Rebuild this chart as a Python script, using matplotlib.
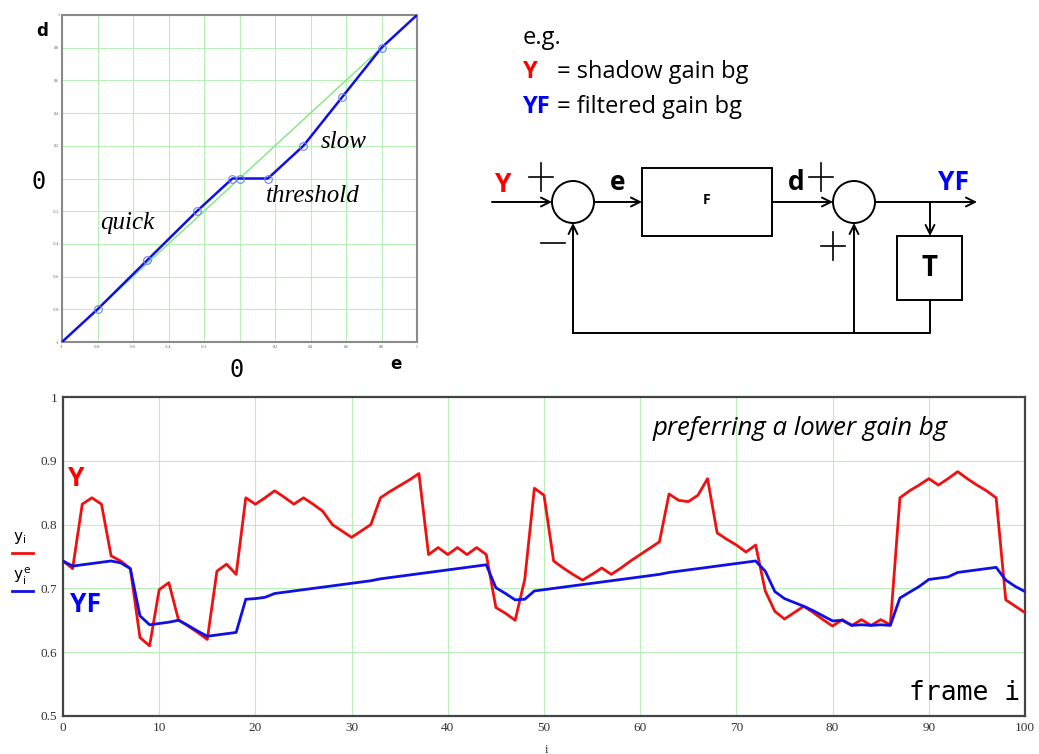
import numpy as np
import matplotlib
matplotlib.use('Agg')
import matplotlib.pyplot as plt
from matplotlib.patches import Circle, Rectangle

# Transfer curve of F: output d against error e
curve_e = [-1.0, -0.8, -0.52, -0.24, -0.04, 0.0, 0.16, 0.36, 0.58, 0.8, 1.0]
curve_d = [-1.0, -0.8, -0.5, -0.2, 0.0, 0.0, 0.0, 0.2, 0.5, 0.8, 1.0]
ident_line = [-1.0, 1.0]
corner_ticks = [-1, -0.8, -0.6, -0.4, -0.2, 0, 0.2, 0.4, 0.6, 0.8, 1]
corner_labels = ['-1', '-0.8', '-0.6', '-0.4', '-0.2', '', '0.2', '0.4', '0.6', '0.8', '1']

# Per-frame gain bg: shadow (Y) and filtered (YF)
frames = list(range(0, 101))
y_shadow = [0.743, 0.731, 0.832, 0.842, 0.832, 0.751, 0.743, 0.731, 0.623, 0.610,
            0.698, 0.709, 0.651, 0.641, 0.631, 0.620, 0.727, 0.738, 0.722, 0.842,
            0.832, 0.842, 0.853, 0.843, 0.832, 0.842, 0.832, 0.821, 0.800, 0.790,
            0.780, 0.790, 0.800, 0.842, 0.852, 0.861, 0.870, 0.880, 0.753, 0.764,
            0.753, 0.764, 0.753, 0.764, 0.753, 0.670, 0.661, 0.650, 0.714, 0.857,
            0.846, 0.743, 0.732, 0.722, 0.713, 0.722, 0.732, 0.722, 0.732, 0.743,
            0.753, 0.763, 0.773, 0.848, 0.838, 0.836, 0.846, 0.872, 0.787, 0.777,
            0.768, 0.757, 0.768, 0.696, 0.664, 0.652, 0.662, 0.672, 0.662, 0.651,
            0.641, 0.651, 0.642, 0.651, 0.642, 0.651, 0.643, 0.842, 0.853, 0.862,
            0.872, 0.862, 0.872, 0.883, 0.872, 0.862, 0.853, 0.842, 0.682, 0.672,
            0.662]
y_filtered = [0.743, 0.735, 0.737, 0.739, 0.741, 0.743, 0.740, 0.731, 0.657, 0.643,
              0.645, 0.647, 0.650, 0.642, 0.633, 0.625, 0.627, 0.629, 0.631, 0.683,
              0.684, 0.686, 0.692, 0.694, 0.696, 0.698, 0.700, 0.702, 0.704, 0.706,
              0.708, 0.710, 0.712, 0.715, 0.717, 0.719, 0.721, 0.723, 0.725, 0.727,
              0.729, 0.731, 0.733, 0.735, 0.737, 0.701, 0.692, 0.682, 0.683, 0.696,
              0.698, 0.700, 0.702, 0.704, 0.706, 0.708, 0.710, 0.712, 0.714, 0.716,
              0.718, 0.720, 0.722, 0.725, 0.727, 0.729, 0.731, 0.733, 0.735, 0.737,
              0.739, 0.741, 0.743, 0.727, 0.695, 0.684, 0.678, 0.672, 0.665, 0.657,
              0.649, 0.650, 0.642, 0.643, 0.642, 0.643, 0.642, 0.685, 0.694, 0.703,
              0.714, 0.716, 0.718, 0.725, 0.727, 0.729, 0.731, 0.733, 0.713, 0.703,
              0.695]
frame_ticks = [0, 10, 20, 30, 40, 50, 60, 70, 80, 90, 100]
gain_ticks = [0.5, 0.6, 0.7, 0.8, 0.9, 1.0]
gain_labels = ['0.5', '0.6', '0.7', '0.8', '0.9', '1']

GRID = '#b8f0b8'
SANS = 'Open Sans'
SERIF = 'Liberation Serif'

fig = plt.figure(figsize=(10.39, 7.54), dpi=100)

# Background axes in pixel coordinates for the block diagram and loose labels
bg = fig.add_axes([0, 0, 1, 1])
bg.set_xlim(0, 1039)
bg.set_ylim(754, 0)
bg.axis('off')

# 1. Transfer curve
ax1 = fig.add_axes([62 / 1039, 1 - 342 / 754, 355 / 1039, 327 / 754])
ax1.plot(ident_line, ident_line, color='#7ee87e', lw=1.0, zorder=2)
ax1.plot(curve_e, curve_d, color='#1010e6', lw=1.8, zorder=3,
         marker='o', markersize=5.5, markerfacecolor='none',
         markeredgecolor='#6f7ff0', markeredgewidth=0.8, markevery=list(range(1, 10)))
ax1.set_xlim(-1, 1)
ax1.set_ylim(-1, 1)
ax1.set_xticks(corner_ticks)
ax1.set_yticks(corner_ticks)
ax1.set_xticklabels(corner_labels, fontsize=3, family=SERIF, color='#555')
ax1.set_yticklabels(corner_labels, fontsize=3, family=SERIF, color='#555')
ax1.tick_params(length=0, pad=2)
ax1.grid(True, color=GRID, lw=0.8)
for sp in ax1.spines.values():
    sp.set_color('#8a8a8a')
    sp.set_linewidth(1.5)
ax1.text(-0.634, -0.272, 'quick', family=SERIF, style='italic', fontsize=18,
         ha='center', va='center')
ax1.text(0.414, -0.107, 'threshold', family=SERIF, style='italic', fontsize=18,
         ha='center', va='center')
ax1.text(0.589, 0.223, 'slow', family=SERIF, style='italic', fontsize=18,
         ha='center', va='center')

bg.text(42, 31, 'd', fontsize=12, fontweight='bold', family='DejaVu Sans', ha='center', va='center')
bg.text(396, 364, 'e', fontsize=12, fontweight='bold', family='DejaVu Sans', ha='center', va='center')
bg.text(39, 182, '0', fontsize=17, family='DejaVu Sans Mono', ha='center', va='center')
bg.text(237, 370, '0', fontsize=17, family='DejaVu Sans Mono', ha='center', va='center')

# 2. Legend text and block diagram
bg.text(523, 38, 'e.g.', fontsize=17, family=SANS, ha='left', va='center')
bg.text(523, 72, 'Y', fontsize=17, family=SANS, fontweight='bold', color='red',
        ha='left', va='center')
bg.text(557, 72, '= shadow gain bg', fontsize=17, family=SANS, ha='left', va='center')
bg.text(523, 107, 'YF', fontsize=17, family=SANS, fontweight='bold', color='blue',
        ha='left', va='center')
bg.text(557, 107, '= filtered gain bg', fontsize=17, family=SANS, ha='left', va='center')

arrow = dict(arrowstyle='->', lw=1.4, color='black', shrinkA=0, shrinkB=0, mutation_scale=16)
bg.add_patch(Circle((573, 202), 21, fill=False, lw=1.4))
bg.add_patch(Circle((854, 202), 21, fill=False, lw=1.4))
bg.add_patch(Rectangle((642, 168), 130, 68, fill=False, lw=1.4))
bg.add_patch(Rectangle((897, 236), 65, 64, fill=False, lw=1.4))
bg.annotate('', xy=(552, 202), xytext=(492, 202), arrowprops=arrow)
bg.annotate('', xy=(642, 202), xytext=(594, 202), arrowprops=arrow)
bg.annotate('', xy=(833, 202), xytext=(772, 202), arrowprops=arrow)
bg.annotate('', xy=(977, 202), xytext=(875, 202), arrowprops=arrow)
bg.annotate('', xy=(930, 236), xytext=(930, 202), arrowprops=arrow)
bg.plot([930, 930, 573], [300, 333, 333], color='black', lw=1.4)
bg.annotate('', xy=(573, 223), xytext=(573, 333), arrowprops=arrow)
bg.annotate('', xy=(854, 223), xytext=(854, 333), arrowprops=arrow)

# plus / minus signs
for cx, cy in [(541, 177), (821, 177), (833, 246)]:
    bg.plot([cx - 12, cx + 12], [cy, cy], color='black', lw=1.2)
    bg.plot([cx, cx], [cy - 14, cy + 14], color='black', lw=1.2)
bg.plot([541, 565], [243, 243], color='black', lw=1.2)

bg.text(503, 184, 'Y', fontsize=19, family=SANS, fontweight='bold', color='red',
        ha='center', va='center')
bg.text(618, 182, 'e', fontsize=19, family=SANS, fontweight='bold', ha='center', va='center')
bg.text(796, 182, 'd', fontsize=19, family=SANS, fontweight='bold', ha='center', va='center')
bg.text(953, 183, 'YF', fontsize=19, family=SANS, fontweight='bold', color='blue',
        ha='center', va='center')
bg.text(707, 200, 'F', fontsize=10, family=SANS, fontweight='bold', ha='center', va='center')
bg.text(930, 268, 'T', fontsize=20, family=SANS, fontweight='bold', ha='center', va='center')

# 3. Time series of the gain
ax2 = fig.add_axes([63 / 1039, 1 - 716 / 754, 962 / 1039, 319 / 754])
ax2.plot(frames, y_shadow, color='#f01010', lw=2.0, zorder=3)
ax2.plot(frames, y_filtered, color='#1010e6', lw=2.0, zorder=4)
ax2.set_xlim(0, 100)
ax2.set_ylim(0.5, 1.0)
ax2.set_xticks(frame_ticks)
ax2.set_yticks(gain_ticks)
ax2.set_xticklabels([str(t) for t in frame_ticks], fontsize=9.5, family=SERIF, color='#333')
ax2.set_yticklabels(gain_labels, fontsize=9.5, family=SERIF, color='#333')
ax2.tick_params(length=0, pad=4)
ax2.grid(True, color=GRID, lw=0.8)
for sp in ax2.spines.values():
    sp.set_color('#444')
    sp.set_linewidth(1.6)

ax2.text(0.5, 0.873, 'Y', fontsize=19, family=SANS, fontweight='bold', color='red',
         ha='left', va='center')
ax2.text(0.7, 0.674, 'YF', fontsize=19, family=SANS, fontweight='bold', color='blue',
         ha='left', va='center')
ax2.text(61.3, 0.951, 'preferring a lower gain bg', fontsize=18.5, family=SANS,
         style='italic', ha='left', va='center')
ax2.text(99.5, 0.536, 'frame i', fontsize=19, family='DejaVu Sans Mono',
         ha='right', va='center')

# legend at the left of the bottom chart
bg.text(13, 538, r'$\mathrm{y_i}$', fontsize=11, family=SERIF, ha='left', va='center')
bg.plot([12, 33], [553, 553], color='#f01010', lw=2.0)
bg.text(13, 576, r'$\mathrm{y_i^{\,e}}$', fontsize=11, family=SERIF, ha='left', va='center')
bg.plot([12, 33], [591, 591], color='#1010e6', lw=2.0)
bg.text(546, 750, 'i', fontsize=9, family=SERIF, color='#333', ha='center', va='center')

plt.savefig('out.png', dpi=100)
plt.close()
